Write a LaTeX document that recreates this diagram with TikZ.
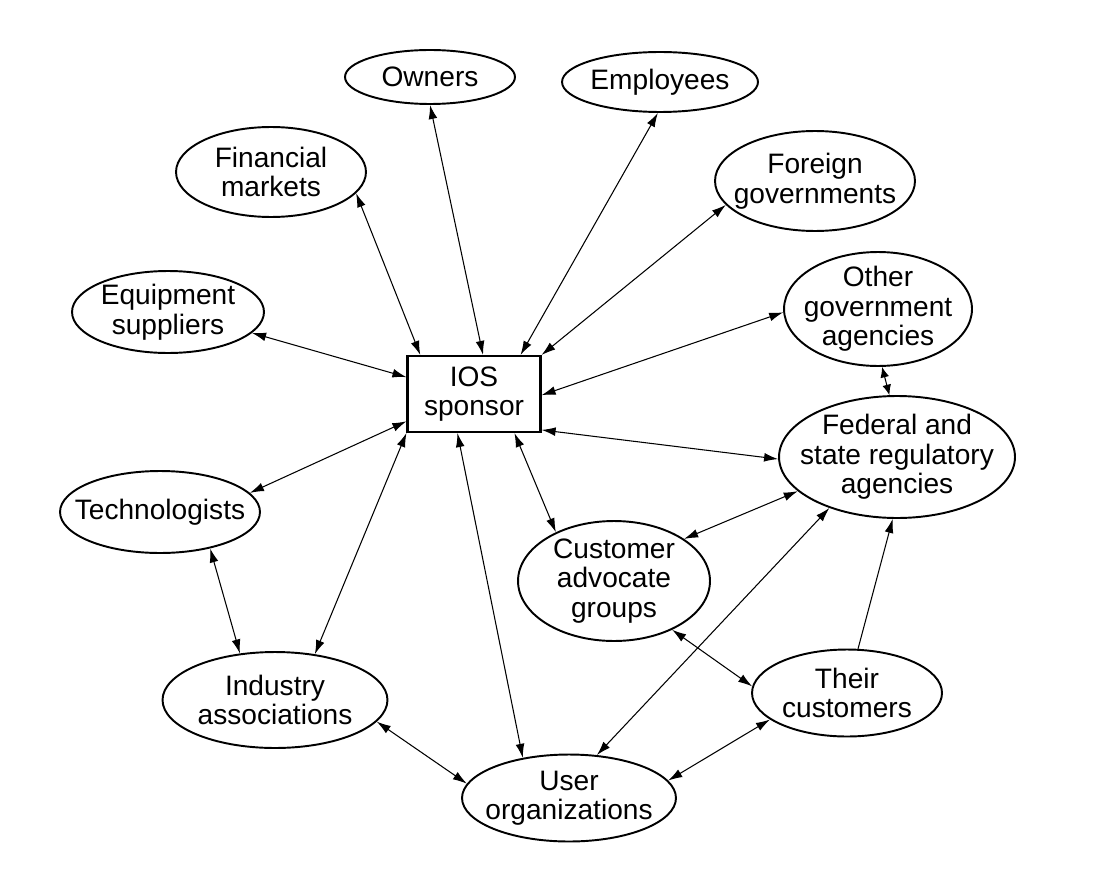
\documentclass[tikz,border=0pt]{standalone}
\usepackage{fontspec}
\setmainfont{Liberation Sans}
\usepackage{tikz}
\usetikzlibrary{arrows.meta}
\usetikzlibrary{shapes.geometric}
\tikzset{ell/.style 2 args = {ellipse, draw, line width = 1.1pt, inner xsep = -3cm, inner ysep = -2cm,
                              minimum width = #1, minimum height = #2, align = center}}
\tikzset{box/.style = {rectangle, draw, line width = 1.2pt, inner sep = 0,
                       minimum width = 2.66cm, minimum height = 1.52cm, align = center}}
\tikzset{link/.style = {line width = 0.6pt, {Latex[length = 8pt, width = 5pt]}-{Latex[length = 8pt, width = 5pt]}}}
\tikzset{onelink/.style = {line width = 0.6pt, -{Latex[length = 8pt, width = 5pt]}}}
\tikzset{shortlink/.style = {line width = 0.6pt, {Latex[length = 6pt, width = 5pt]}-{Latex[length = 6pt, width = 5pt]}}}

\begin{document}
\begin{tikzpicture}[x = 0.02cm, y = -0.02cm, font = \fontsize{16}{16.8}\selectfont]
    \useasboundingbox [fill = white] (0, 0) rectangle (1097, 885);
    \node [box] (ios) at (474, 394) {IOS\\sponsor};
    \node [ell = {3.4cm}{1.08cm}] (own) at (430, 77) {Owners};
    \node [ell = {3.92cm}{1.2cm}] (emp) at (660, 82) {Employees};
    \node [ell = {3.8cm}{1.8cm}] (fin) at (271, 172) {Financial\\markets};
    \node [ell = {4cm}{2cm}] (for) at (815, 181) {Foreign\\governments};
    \node [ell = {3.84cm}{1.64cm}] (equ) at (168, 312) {Equipment\\suppliers};
    \node [ell = {3.76cm}{2.28cm}] (oth) at (878, 309) {Other\\government\\agencies};
    \node [ell = {4.72cm}{2.44cm}] (fed) at (897, 457) {Federal and\\state regulatory\\agencies};
    \node [ell = {4cm}{1.64cm}] (tec) at (160, 512) {Technologists};
    \node [ell = {3.84cm}{2.4cm}] (cus) at (614, 581) {Customer\\advocate\\groups};
    \node [ell = {4.5cm}{1.92cm}] (ind) at (275, 700) {Industry\\associations};
    \node [ell = {3.8cm}{1.74cm}] (the) at (847, 693) {Their\\customers};
    \node [ell = {4.28cm}{1.74cm}] (use) at (569, 798) {User\\organizations};

    \draw [link] (own.-90) -- (ios.77);
    \draw [link] (emp.-94) -- (ios.40);
    \draw [link] (fin.-14) -- (ios.144);
    \draw [link] (for.195) -- (ios.30);
    \draw [link] (equ.-14) -- (ios.166);
    \draw [link] (oth.182) -- (ios.-1);
    \draw [link] (fed.181) -- (ios.-28);
    \draw [link] (tec.12) -- (ios.202);
    \draw [link] (ind.49) -- (ios.210);
    \draw [link] (use.139) -- (ios.247);
    \draw [link] (cus.140) -- (ios.-44);
    \draw [link] (tec.-36) -- (ind.127);
    \draw [link] (ind.-12) -- (use.172);
    \draw [link] (cus.31) -- (fed.199);
    \draw [link] (use.57) -- (fed.217);
    \draw [link] (cus.-40) -- (the.176);
    \draw [link] (use.10) -- (the.199);
    \draw [onelink] (the.76) -- (fed.266);
    \draw [shortlink] (oth.-86) -- (fed.97);
  \end{tikzpicture}
\end{document}
